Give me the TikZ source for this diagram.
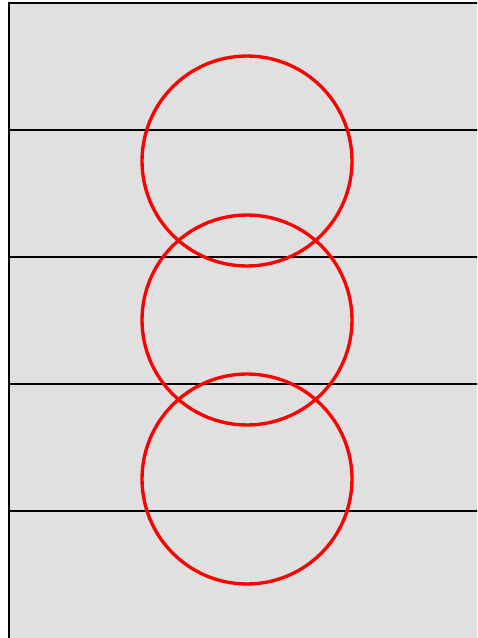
\documentclass[tikz,border=0pt]{standalone}
\usepackage{xcolor}
\definecolor{panelgray}{HTML}{E0E0E0}

\begin{document}
\begin{tikzpicture}[
  x=0.02cm, y=-0.02cm,
  panel/.style={draw=black, fill=panelgray, line width=1.1pt},
  rule/.style={draw=black, line width=1.1pt},
  ring/.style={draw=red, line width=1.9pt, circle, minimum size=4.2cm, inner sep=0pt}
]

%% -- Frame ---------------------------------------------------------------
\useasboundingbox (0,0) rectangle (477,638);
\clip (0,0) rectangle (477,638);
\path[panel] (9,3) rectangle (500,639);

%% -- Horizontal rules -----------------------------------------------------
\foreach \y in {130,257,384,511}
  \draw[rule] (9,\y) -- (500,\y);

%% -- Circles ---------------------------------------------------------------
\node[ring] (top) at (247,161) {};
\node[ring] (mid) at (247,320) {};
\node[ring] (bot) at (247,479) {};

\end{tikzpicture}
\end{document}
